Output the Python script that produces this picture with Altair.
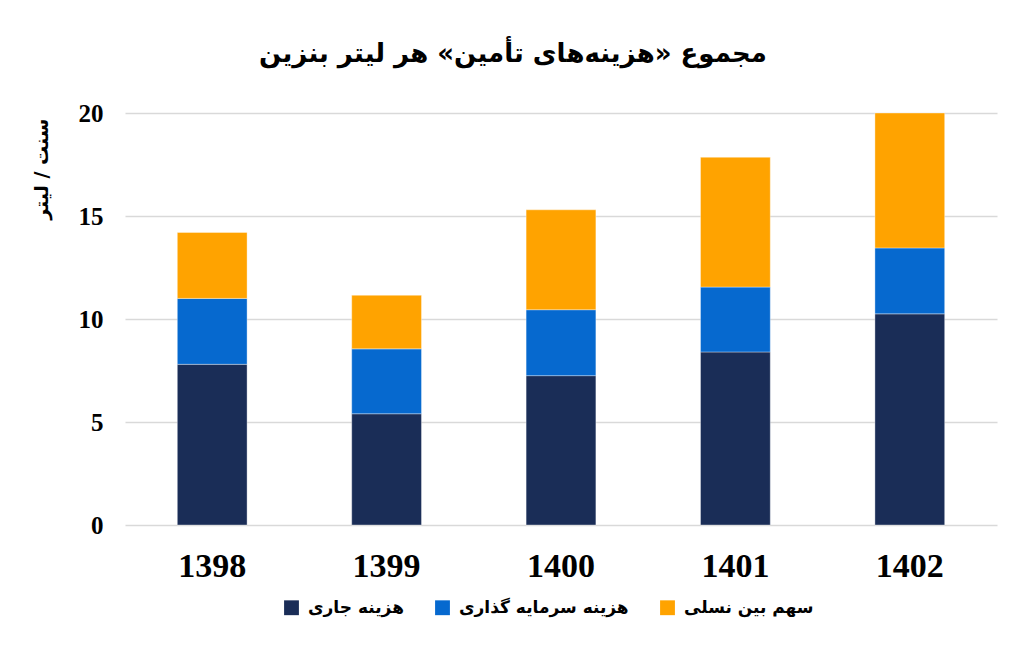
import altair as alt
import pandas as pd

years = ["1398", "1399", "1400", "1401", "1402"]
series = ["هزینه جاری", "هزینه سرمایه گذاری", "سهم بین نسلی"]
current_cost = [7.8, 5.4, 7.25, 8.4, 10.25]
capital_cost = [3.2, 3.15, 3.2, 3.15, 3.2]
intergen_share = [3.2, 2.6, 4.85, 6.3, 6.55]
colors = ["#1a2d57", "#0669cf", "#ffa300"]

rows = []
for i, y in enumerate(years):
    for k, vals in enumerate([current_cost, capital_cost, intergen_share]):
        rows.append({"year": y, "series": series[k], "value": vals[i], "ord": k})
df = pd.DataFrame(rows)

chart = (
    alt.Chart(df)
    .mark_bar(stroke="#ffffff", strokeWidth=0.6, strokeOpacity=0.6)
    .encode(
        x=alt.X(
            "year:N",
            sort=years,
            title=None,
            scale=alt.Scale(paddingInner=0.6, paddingOuter=0.3),
            axis=alt.Axis(
                labelAngle=0,
                labelFont="Liberation Serif",
                labelFontWeight="bold",
                labelFontSize=34,
                labelColor="#000000",
                labelPadding=24,
                ticks=False,
                domain=False,
                grid=False,
            ),
        ),
        y=alt.Y(
            "value:Q",
            stack="zero",
            scale=alt.Scale(domain=[0, 20], nice=False),
            title="سنت / لیتر",
            axis=alt.Axis(
                values=[0, 5, 10, 15, 20],
                labelFont="Liberation Serif",
                labelFontWeight="bold",
                labelFontSize=25,
                labelColor="#000000",
                labelPadding=22,
                ticks=False,
                domain=False,
                gridColor="#d9d9d9",
                gridWidth=1.5,
                titleFont="DejaVu Sans",
                titleFontSize=19,
                titleFontWeight="bold",
                titleColor="#000000",
                titleAnchor="end",
                titleAlign="right",
                titleBaseline="bottom",
                titleX=-74,
                titleY=5,
            ),
        ),
        color=alt.Color(
            "series:N",
            scale=alt.Scale(domain=series, range=colors),
            legend=alt.Legend(
                title=None,
                orient="none",
                direction="horizontal",
                legendX=158,
                legendY=486,
                symbolType="square",
                symbolSize=220,
                symbolStrokeWidth=0,
                labelFont="DejaVu Sans",
                labelFontWeight="bold",
                labelFontSize=17,
                labelColor="#000000",
                labelOffset=8,
                labelLimit=0,
                columnPadding=30,
            ),
        ),
        order=alt.Order("ord:Q", sort="ascending"),
    )
    .properties(
        width=872,
        height=412,
        background="#ffffff",
        autosize=alt.AutoSizeParams(type="none"),
        padding={"left": 125, "top": 113, "right": 27, "bottom": 134},
        title=alt.TitleParams(
            text="مجموع «هزینه‌های تأمین» هر لیتر بنزین",
            font="DejaVu Sans",
            fontSize=26,
            fontWeight="bold",
            color="#000000",
            anchor="middle",
            dx=-48,
            offset=34,
        ),
    )
    .configure_view(strokeWidth=0, stroke=None)
)

chart.save("out.html", embed_options={"renderer": "svg", "actions": False})
